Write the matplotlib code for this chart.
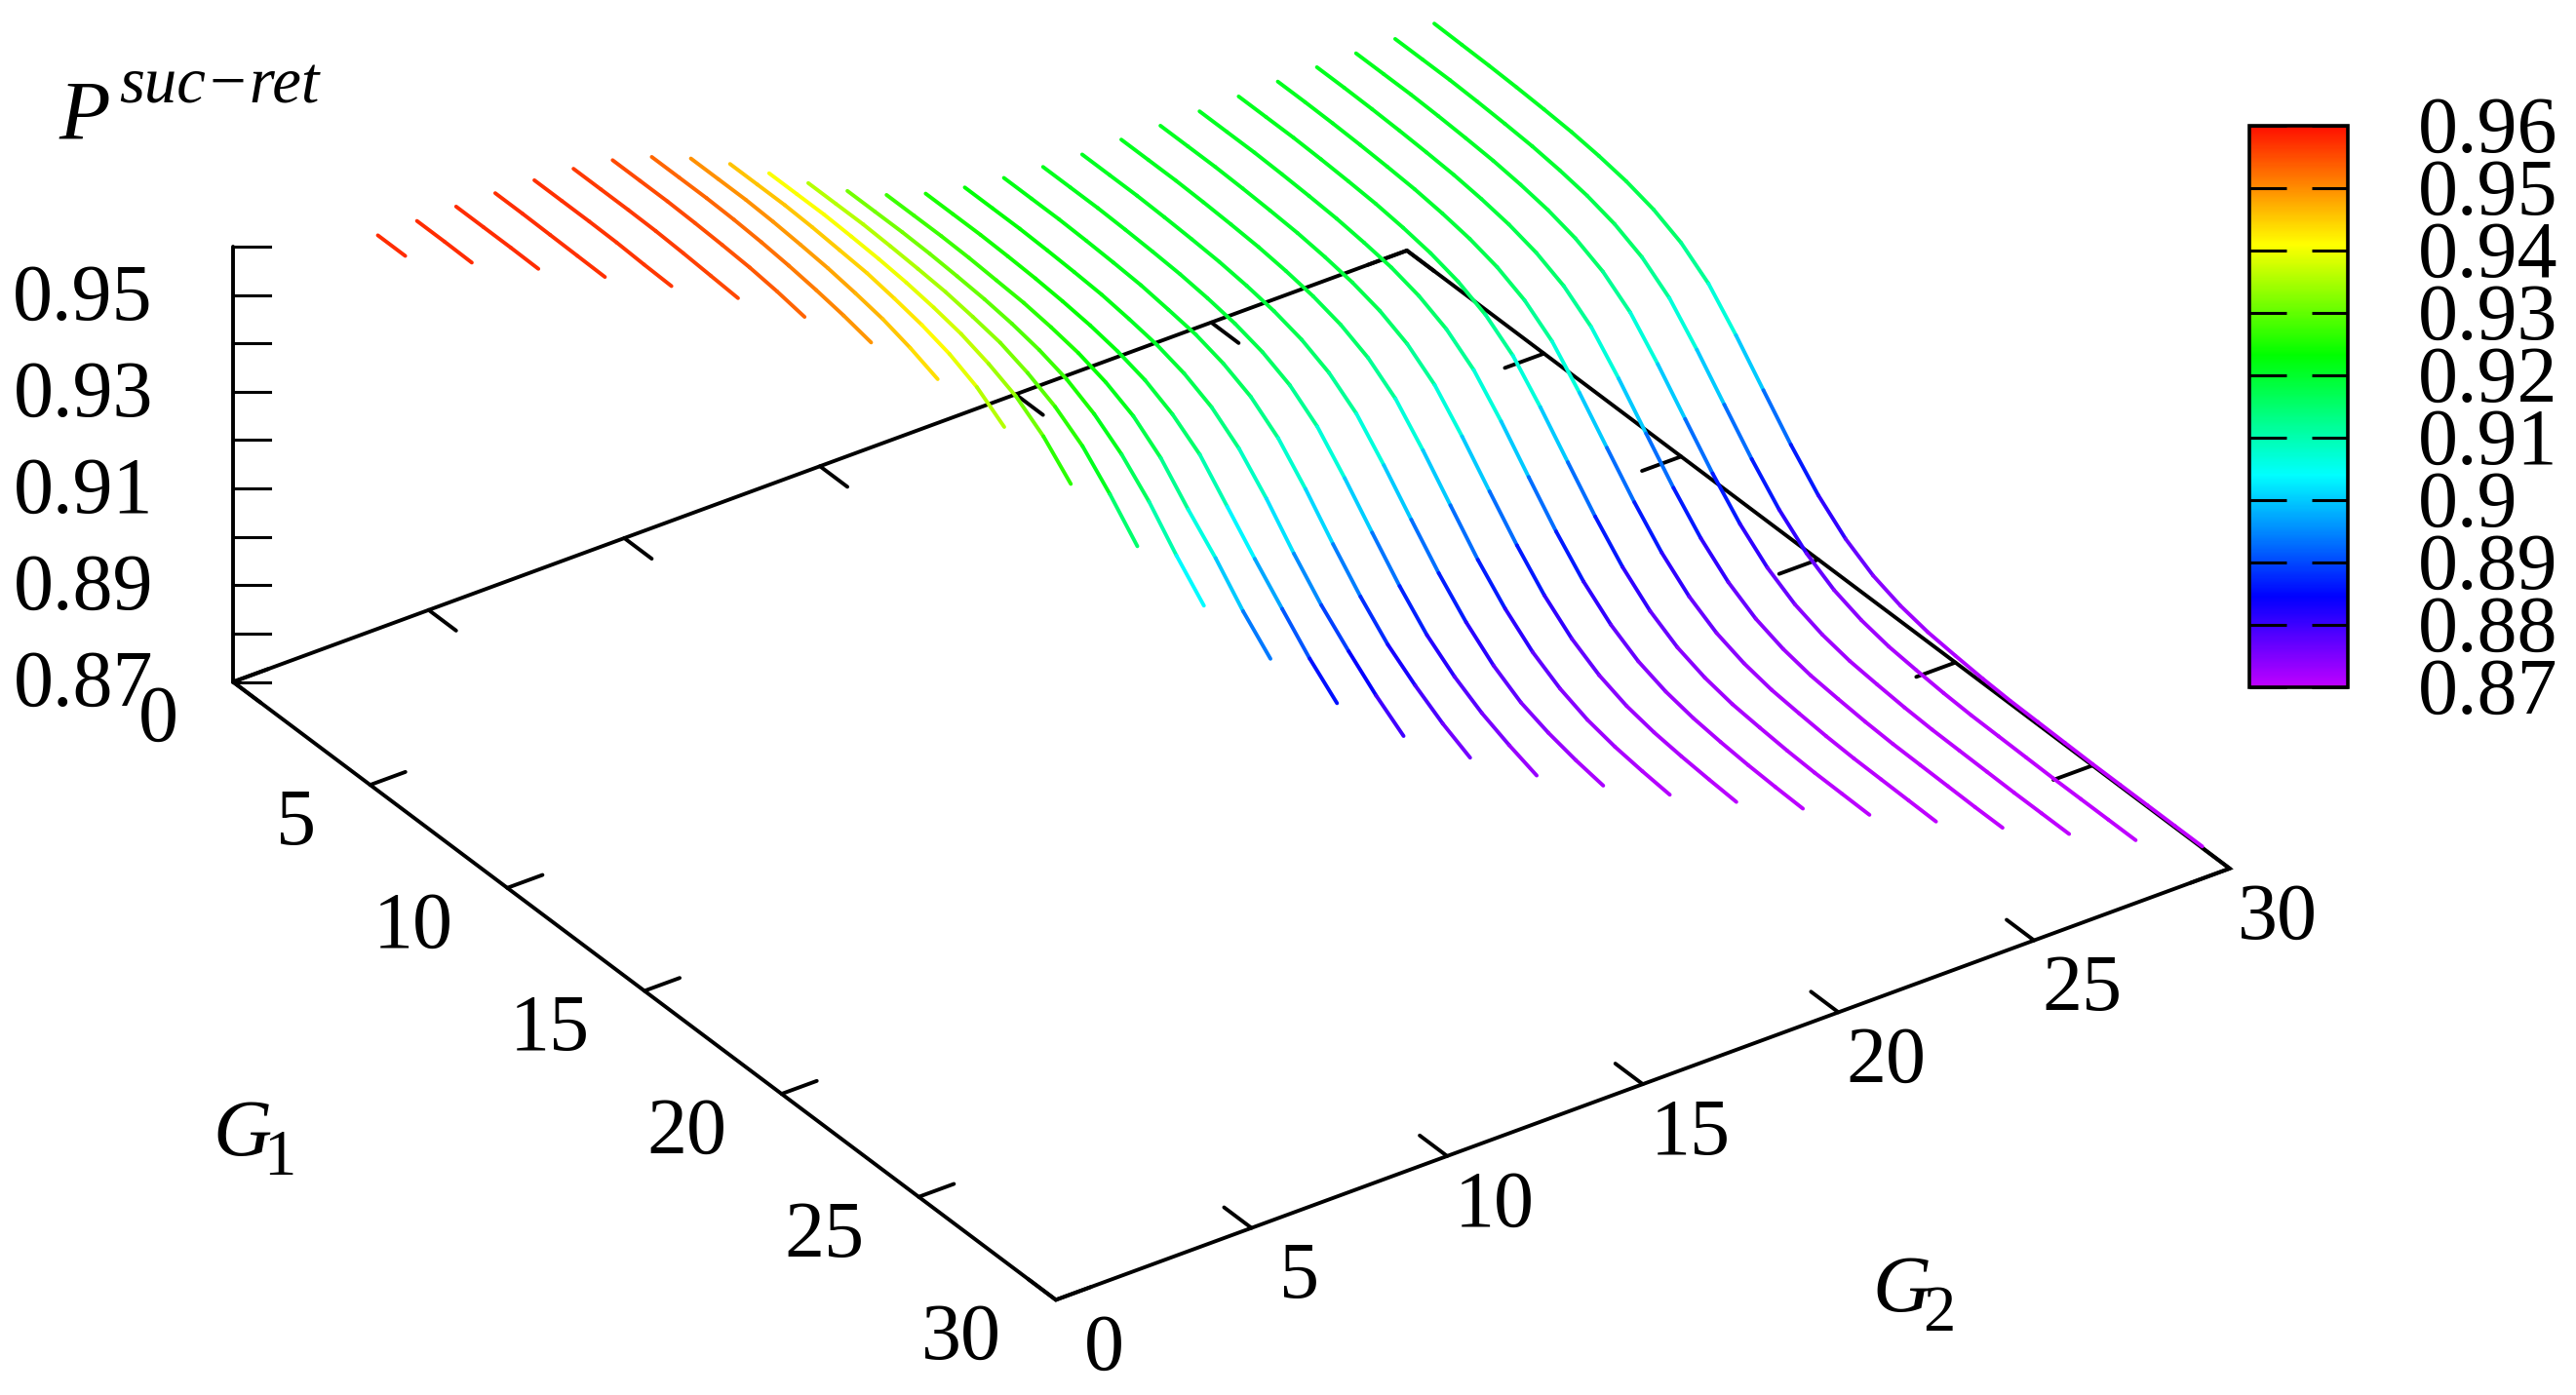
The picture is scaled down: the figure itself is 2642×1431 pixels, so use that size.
# -*- coding: utf-8 -*-
"""
P suc-ret versus G1, G2, a gnuplot style 3d view drawn on a flat axes
"""

import numpy as np
import matplotlib
matplotlib.use('Agg')
import matplotlib.pyplot as plt
from matplotlib.collections import LineCollection
from matplotlib.colors import LinearSegmentedColormap, Normalize
from matplotlib.cm import ScalarMappable
from matplotlib.transforms import ScaledTranslation

plt.rcParams['font.family'] = ['Liberation Serif', 'DejaVu Serif']

# one list per G2, values at G1 = 1, 2, ... G2-1
p_g2_03 = [.9577, .9577]
p_g2_04 = [.9577, .9577, .9576]
p_g2_05 = [.9577, .9577, .9577, .9576]
p_g2_06 = [.9575, .9575, .9574, .9573, .9572]
p_g2_07 = [.9572, .9572, .9572, .9571, .9568, .9566]
p_g2_08 = [.9566, .9566, .9566, .9565, .9562, .9558, .9554]
p_g2_09 = [.9554, .9554, .9554, .9552, .9549, .9545, .9538, .9528]
p_g2_10 = [.9531, .9531, .9531, .9529, .9525, .9519, .9511, .9501, .9488]
p_g2_11 = [.9498, .9498, .9498, .9495, .9490, .9484, .9475, .9464, .9447, .9425]
p_g2_12 = [.9457, .9457, .9457, .9454, .9449, .9444, .9434, .9422, .9405, .9379, .9339]
p_g2_13 = [.9408, .9408, .9408, .9405, .9401, .9395, .9386, .9374, .9355, .9330, .9290, .9234]
p_g2_14 = [.9358, .9358, .9358, .9355, .9351, .9346, .9337, .9326, .9306, .9279, .9240, .9183, .9118]
p_g2_15 = [.9312, .9312, .9312, .9310, .9306, .9301, .9293, .9281, .9263, .9234, .9193, .9138, .9069, .9008]
p_g2_16 = [.9274, .9274, .9274, .9272, .9268, .9264, .9256, .9245, .9227, .9200, .9156, .9092, .9034, .8967,
           .8911]
p_g2_17 = [.9247, .9247, .9247, .9245, .9242, .9237, .9230, .9219, .9202, .9174, .9133, .9068, .9003, .8942,
           .8882, .8832]
p_g2_18 = [.9230, .9230, .9230, .9228, .9225, .9221, .9213, .9203, .9186, .9159, .9116, .9055, .8984, .8920,
           .8867, .8818, .8777]
p_g2_19 = [.9220, .9220, .9220, .9218, .9215, .9211, .9203, .9194, .9177, .9151, .9108, .9045, .8974, .8908,
           .8851, .8809, .8773, .8745]
p_g2_20 = [.9213, .9213, .9213, .9211, .9208, .9204, .9197, .9187, .9171, .9145, .9102, .9038, .8968, .8900,
           .8841, .8798, .8765, .8741, .8721]
p_g2_21 = [.9209, .9209, .9209, .9207, .9204, .9200, .9193, .9183, .9167, .9141, .9099, .9035, .8965, .8897,
           .8838, .8791, .8757, .8737, .8723, .8713]
p_g2_22 = [.9210, .9210, .9210, .9208, .9205, .9201, .9194, .9184, .9168, .9142, .9100, .9036, .8965, .8895,
           .8836, .8789, .8756, .8734, .8721, .8713, .8707]
p_g2_23 = [.9209, .9209, .9209, .9207, .9204, .9200, .9193, .9183, .9167, .9141, .9099, .9035, .8964, .8895,
           .8834, .8787, .8754, .8733, .8721, .8714, .8709, .8705]
p_g2_24 = [.9209, .9209, .9209, .9207, .9204, .9200, .9193, .9184, .9168, .9142, .9100, .9036, .8964, .8894,
           .8833, .8786, .8753, .8733, .8721, .8714, .8709, .8706, .8704]
p_g2_25 = [.9210, .9210, .9210, .9208, .9205, .9201, .9194, .9184, .9168, .9142, .9100, .9036, .8965, .8895,
           .8833, .8785, .8752, .8732, .8720, .8714, .8709, .8706, .8705, .8704]
p_g2_26 = [.9211, .9211, .9210, .9208, .9205, .9201, .9194, .9184, .9168, .9142, .9100, .9036, .8965, .8895,
           .8833, .8785, .8752, .8732, .8720, .8714, .8709, .8706, .8705, .8704, .8703]
p_g2_27 = [.9211, .9211, .9210, .9208, .9205, .9201, .9194, .9184, .9168, .9142, .9100, .9036, .8965, .8895,
           .8833, .8785, .8752, .8732, .8720, .8714, .8709, .8706, .8705, .8704, .8703, .8703]
p_g2_28 = [.9210, .9210, .9210, .9208, .9205, .9201, .9194, .9184, .9168, .9142, .9100, .9036, .8965, .8895,
           .8833, .8785, .8752, .8732, .8720, .8714, .8709, .8706, .8705, .8704, .8703, .8703, .8703]
p_g2_29 = [.9210, .9210, .9210, .9208, .9205, .9201, .9194, .9184, .9168, .9142, .9100, .9036, .8965, .8895,
           .8833, .8785, .8752, .8732, .8720, .8714, .8709, .8706, .8705, .8704, .8703, .8703, .8703, .8703]
p_g2_30 = [.9212, .9211, .9210, .9208, .9205, .9201, .9194, .9184, .9168, .9142, .9100, .9036, .8965, .8895,
           .8833, .8785, .8752, .8732, .8720, .8714, .8709, .8706, .8705, .8704, .8703, .8703, .8703, .8703, .8703]

curves = [p_g2_03, p_g2_04, p_g2_05, p_g2_06, p_g2_07, p_g2_08, p_g2_09, p_g2_10, p_g2_11, p_g2_12,
          p_g2_13, p_g2_14, p_g2_15, p_g2_16, p_g2_17, p_g2_18, p_g2_19, p_g2_20, p_g2_21, p_g2_22,
          p_g2_23, p_g2_24, p_g2_25, p_g2_26, p_g2_27, p_g2_28, p_g2_29, p_g2_30]
g2_values = list(range(3, 31))

g_ticks = [0, 5, 10, 15, 20, 25, 30]
z_ticks = [0.87, 0.88, 0.89, 0.90, 0.91, 0.92, 0.93, 0.94, 0.95, 0.96]
z_labels = ['0.87', '0.89', '0.91', '0.93', '0.95']
cb_labels = ['0.87', '0.88', '0.89', '0.9', '0.91', '0.92', '0.93', '0.94', '0.95', '0.96']

palette_pos = [0.0, 0.161, 0.378, 0.592, 0.789, 1.0]
palette_col = ['#c000ff', '#0000ff', '#00ffff', '#00ff00', '#ffff00', '#ff0f00']

W, H = 2642, 1431
FS = 59


def project(g1, g2, p):
    # view of the box in pixels
    x = 239 + 28.13 * np.asarray(g1, float) + 40.13 * np.asarray(g2, float)
    y = 699.5 + 21.13 * np.asarray(g1, float) - 14.75 * np.asarray(g2, float) - 4960 * (np.asarray(p, float) - 0.87)
    return x, y


def line3d(ax, g1, g2, p):
    x, y = project(g1, g2, p)
    ax.plot(x, y, color='black', lw=2.8, solid_capstyle='round', solid_joinstyle='miter', zorder=1)


fig = plt.figure(figsize=(W / 100, H / 100), dpi=100)
ax = fig.add_axes([0, 0, 1, 1])
ax.set_xlim(0, W)
ax.set_ylim(H, 0)
ax.axis('off')

# box floor
line3d(ax, [0, 30, 30, 0, 0], [0, 0, 30, 30, 0], [0.87] * 5)
# z axis
line3d(ax, [0, 0], [0, 0], [0.87, 0.96])

for g in g_ticks:
    line3d(ax, [0, 1], [g, g], [0.87, 0.87])
    line3d(ax, [30, 29], [g, g], [0.87, 0.87])
    line3d(ax, [g, g], [0, 0.9], [0.87, 0.87])
    line3d(ax, [g, g], [30, 29], [0.87, 0.87])
    x, y = project(g, 0, 0.87)
    ax.text(x - 56, y + 41, str(g), fontsize=FS, ha='right', va='center')
    x, y = project(30, g, 0.87)
    ax.text(x + 49, y + 52, str(g), fontsize=FS, ha='center', va='center')

for z in z_ticks:
    x, y = project(0, 0, z)
    ax.plot([x, x + 38], [y, y], color='black', lw=2.2, zorder=1)
for lab in z_labels:
    x, y = project(0, 0, float(lab))
    ax.text(x - 82, y + 5, lab, fontsize=FS, ha='right', va='center')

# surface lines, colour follows the value
cmap = LinearSegmentedColormap.from_list('psuc', list(zip(palette_pos, palette_col)), N=512)
norm = Normalize(0.87, 0.96)

for g2, vals in zip(g2_values, curves):
    g1 = np.arange(1, g2)
    x, y = project(g1, g2, vals)
    pts = np.column_stack([x, y])
    segs = np.stack([pts[:-1], pts[1:]], axis=1)
    vals = np.asarray(vals)
    lc = LineCollection(segs, cmap=cmap, norm=norm, linewidths=2.8, capstyle='round', zorder=3)
    lc.set_array((vals[:-1] + vals[1:]) / 2)
    ax.add_collection(lc)

# axis names
ax.text(60, 143, 'P', fontsize=62, style='italic', ha='left', va='baseline')
ax.text(122, 106, 'suc\u2212ret', fontsize=48, style='italic', ha='left', va='baseline')
ax.text(218, 1185, 'G', fontsize=60, style='italic', ha='left', va='baseline')
ax.text(270, 1205, '1', fontsize=48, ha='left', va='baseline')
ax.text(1920, 1345, 'G', fontsize=60, style='italic', ha='left', va='baseline')
ax.text(1972, 1365, '2', fontsize=48, ha='left', va='baseline')

# colour box
cax = fig.add_axes([2307 / W, 1 - 705 / H, 101 / W, 576 / H])
cb = fig.colorbar(ScalarMappable(norm=norm, cmap=cmap), cax=cax)
cb.set_ticks(z_ticks)
cb.set_ticklabels(cb_labels)
cb.outline.set_linewidth(2.6)
cax.yaxis.set_ticks_position('both')
cax.tick_params(axis='y', which='major', direction='in', length=27, width=2.2, left=True, right=True,
                labelleft=False, labelright=True, labelsize=FS, pad=52)
for lab in cax.get_yticklabels():
    lab.set_transform(lab.get_transform() + ScaledTranslation(0, 2 / 100, fig.dpi_scale_trans))

fig.savefig('out.png', dpi=100)
